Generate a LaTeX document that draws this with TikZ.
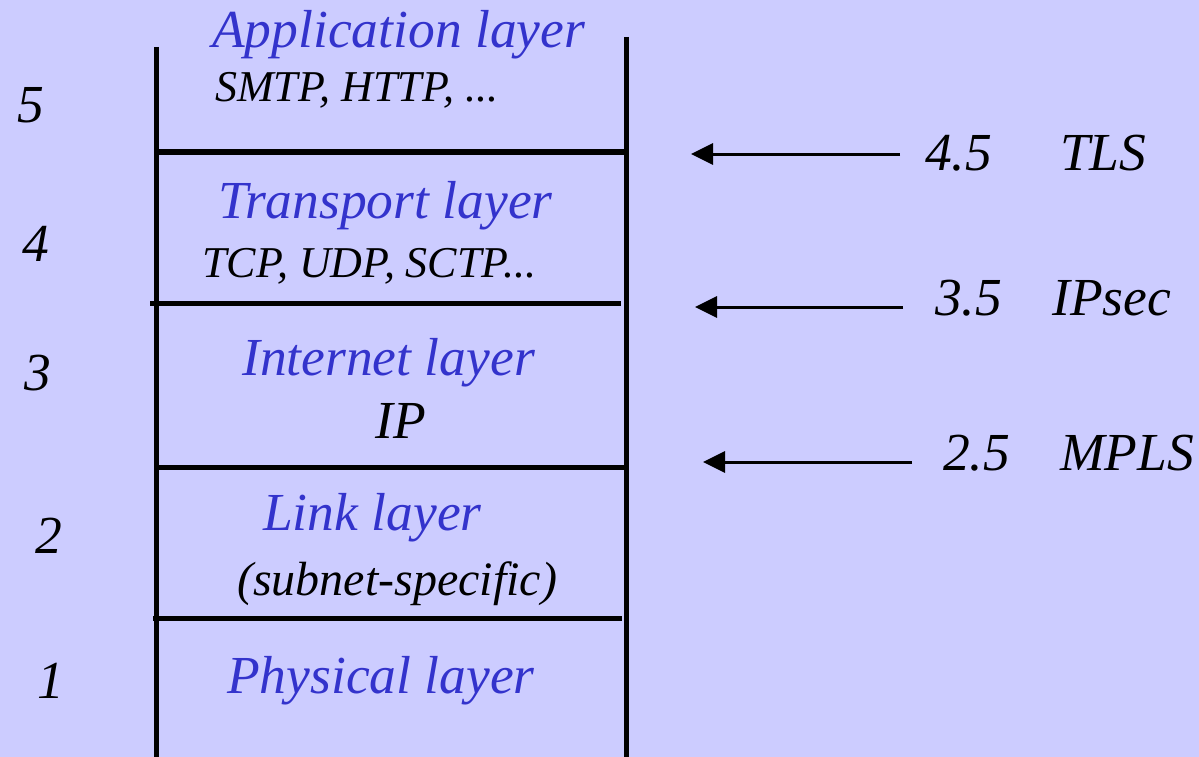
\documentclass[tikz,border=0pt]{standalone}
\usepackage{fontspec}
\setmainfont{Liberation Serif}
\usetikzlibrary{arrows.meta}
\definecolor{bg}{HTML}{CCCCFF}
\definecolor{lay}{HTML}{3333CC}
\begin{document}
\begin{tikzpicture}[x=1pt,y=-1pt,
  big/.style={font=\fontsize{53.5}{60}\selectfont\itshape, inner sep=0pt, anchor=base west},
  small/.style={font=\fontsize{44}{50}\selectfont\itshape, inner sep=0pt, anchor=base west},
  mid/.style={font=\fontsize{48}{54}\selectfont\itshape, inner sep=0pt, anchor=base west},
  layer/.style={big, text=lay},
  wall/.style={line width=5pt},
  arr/.style={line width=3pt, -{Triangle[length=22pt,width=21pt]}}]
\fill[bg] (0,0) rectangle (1199,757);
\useasboundingbox (0,0) rectangle (1199,757);
% stack walls
\draw[wall] (156,47) -- (156,757);
\draw[wall] (626,37) -- (626,757);
\draw[wall] (156,152) -- (626,152);
\draw[wall] (150,303) -- (621,303);
\draw[wall] (156,467) -- (626,467);
\draw[wall] (153,618) -- (622,618);
% layer texts
\node[layer] (app) at (212,48) {Application layer};
\node[small] (appp) at (215,102) {SMTP, HTTP, ...};
\node[layer] (tra) at (218,218) {Transport layer};
\node[small] (trap) at (202,277) {TCP, UDP, SCTP...};
\node[layer] (int) at (242,375) {Internet layer};
\node[big] (intp) at (375,438) {IP};
\node[layer] (lnk) at (263,530) {Link layer};
\node[mid] (lnkp) at (237,595) {(subnet-specific)};
\node[layer] (phy) at (227,693) {Physical layer};
% numbers
\node[big] (n5) at (17,123) {5};
\node[big] (n4) at (22,261) {4};
\node[big] (n3) at (24,390) {3};
\node[big] (n2) at (35,553) {2};
\node[big] (n1) at (37,698) {1};
% right side
\node[big] (v45) at (925,171) {4.5};
\node[big] (tls) at (1060,171) {TLS};
\node[big] (v35) at (935,315) {3.5};
\node[big] (ips) at (1052,315) {IPsec};
\node[big] (v25) at (943,470) {2.5};
\node[big] (mpls) at (1060,470) {MPLS};
\coordinate (s1) at (900,154);
\coordinate (e1) at (691,154);
\coordinate (s2) at (903,307);
\coordinate (e2) at (695,307);
\coordinate (s3) at (912,462);
\coordinate (e3) at (703,462);
\draw[arr] (s1) -- (e1);
\draw[arr] (s2) -- (e2);
\draw[arr] (s3) -- (e3);
\end{tikzpicture}
\end{document}
